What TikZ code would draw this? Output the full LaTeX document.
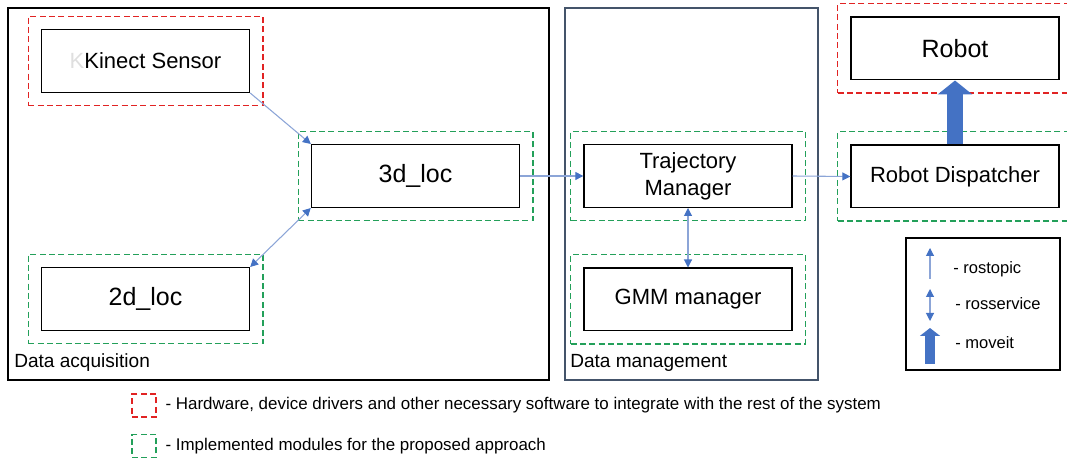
\documentclass[tikz,border=0pt]{standalone}
\usepackage{fontspec}
\setmainfont{Liberation Sans}
\usetikzlibrary{positioning, fit, arrows.meta}
\definecolor{hwred}{RGB}{225,35,35}
\definecolor{implgreen}{RGB}{35,160,90}
\definecolor{mgmtblue}{RGB}{68,84,106}
\definecolor{rosline}{RGB}{140,165,215}
\definecolor{roshead}{RGB}{68,114,196}

\tikzset{
    module/.style={draw, line width=1pt, minimum width=156pt, minimum height=47pt, inner sep=0pt, font=\fontsize{16.5}{19}\selectfont},
    bigtext/.style={font=\fontsize{18.75}{21}\selectfont},
    hwframe/.style={draw=hwred, line width=1pt, dash pattern=on 4.5pt off 2.5pt, inner sep=9.5pt},
    implframe/.style={draw=implgreen, line width=1pt, dash pattern=on 4.5pt off 2.5pt, inner sep=9.5pt},
    rostopic/.style={rosline, line width=0.8pt, -{Triangle[length=6pt, width=6pt, color=roshead]}},
    rosservice/.style={rosline, line width=0.8pt, {Triangle[length=6pt, width=6pt, color=roshead]}-{Triangle[length=6pt, width=6pt, color=roshead]}},
    moveit/.style={roshead, line width=12pt, -{Triangle[length=10.5pt, width=25.5pt]}},
    smallmoveit/.style={roshead, line width=7.5pt, -{Triangle[length=6pt, width=15pt]}},
    keytext/.style={inner sep=0pt, font=\fontsize{12.4}{14}\selectfont},
    notetext/.style={inner sep=0pt, font=\fontsize{12.7}{14}\selectfont},
    areatext/.style={inner sep=0pt, anchor=west, font=\fontsize{14.3}{16}\selectfont}
}

\begin{document}
\begin{tikzpicture}[x=0.75pt, y=-0.75pt]
    \useasboundingbox (0,0) rectangle (1067,459);

    % Areas
    \draw[line width=1pt] (8,8) rectangle (549,380);
    \node[areatext] (acqlabel) at (14,363) {Data acquisition};
    \draw[mgmtblue, line width=1pt] (565,8) rectangle (818,380);
    \node[areatext] (mgmtlabel) at (570,363) {Data management};

    % Modules
    \node[module] (kinect) at (145.5,61) {{\color{gray!25}K}Kinect Sensor};
    \node[module, bigtext] (loc3d) at (415.5,176) {3d\_loc};
    \node[module, bigtext] (loc2d) at (145.5,299) {2d\_loc};
    \node[module, align=center, font=\fontsize{16.5}{20}\selectfont] (traj) at (688,176) {Trajectory\\Manager};
    \node[module] (gmm) at (688,299.5) {GMM manager};
    \node[module, bigtext] (robot) at (955,48.5) {Robot};
    \node[module] (disp) at (955,176.5) {Robot Dispatcher};

    % Dashed frames
    \node[hwframe, fit=(kinect)] (kinectframe) {};
    \node[hwframe, fit=(robot)] (robotframe) {};
    \node[implframe, fit=(loc3d)] (loc3dframe) {};
    \node[implframe, fit=(loc2d)] (loc2dframe) {};
    \node[implframe, fit=(traj)] (trajframe) {};
    \node[implframe, fit=(gmm)] (gmmframe) {};
    \node[implframe, fit=(disp)] (dispframe) {};

    % Connections
    \draw[rostopic] (kinect.south east) -- (loc3d.north west);
    \draw[rosservice] (loc3d.south west) -- (loc2d.north east);
    \draw[rostopic] (loc3d.east) -- (traj.west);
    \draw[rosservice] (traj.south) -- (gmm.north);
    \draw[rostopic] (traj.east) -- (disp.west);
    \draw[moveit] (disp.north) -- (robot.south);

    % Key for connections
    \draw[line width=1pt] (906,238) rectangle (1060,370);
    \coordinate (topicA) at (930,279);
    \coordinate (topicB) at (930,248);
    \coordinate (serviceA) at (930,289);
    \coordinate (serviceB) at (930,321);
    \coordinate (moveA) at (930,364);
    \coordinate (moveB) at (930,328);
    \draw[rostopic] (topicA) -- (topicB);
    \draw[rosservice] (serviceA) -- (serviceB);
    \draw[smallmoveit] (moveA) -- (moveB);
    \node[keytext, anchor=west] (topickey) at (953,269) {- rostopic};
    \node[keytext, anchor=west] (servicekey) at (955,304) {- rosservice};
    \node[keytext, anchor=west] (movekey) at (955,343) {- moveit};

    % Key for frames
    \node[hwframe, inner sep=0pt, minimum width=18pt, minimum height=17pt] (hwkey) at (144,405.5) {};
    \node[notetext, right=6.5pt of hwkey] (hwnote) {- Hardware, device drivers and other necessary software to integrate with the rest of the system};
    \node[implframe, inner sep=0pt, minimum width=18pt, minimum height=17pt] (implkey) at (144,446) {};
    \node[notetext, right=6.5pt of implkey] (implnote) {- Implemented modules for the proposed approach};
\end{tikzpicture}
\end{document}
